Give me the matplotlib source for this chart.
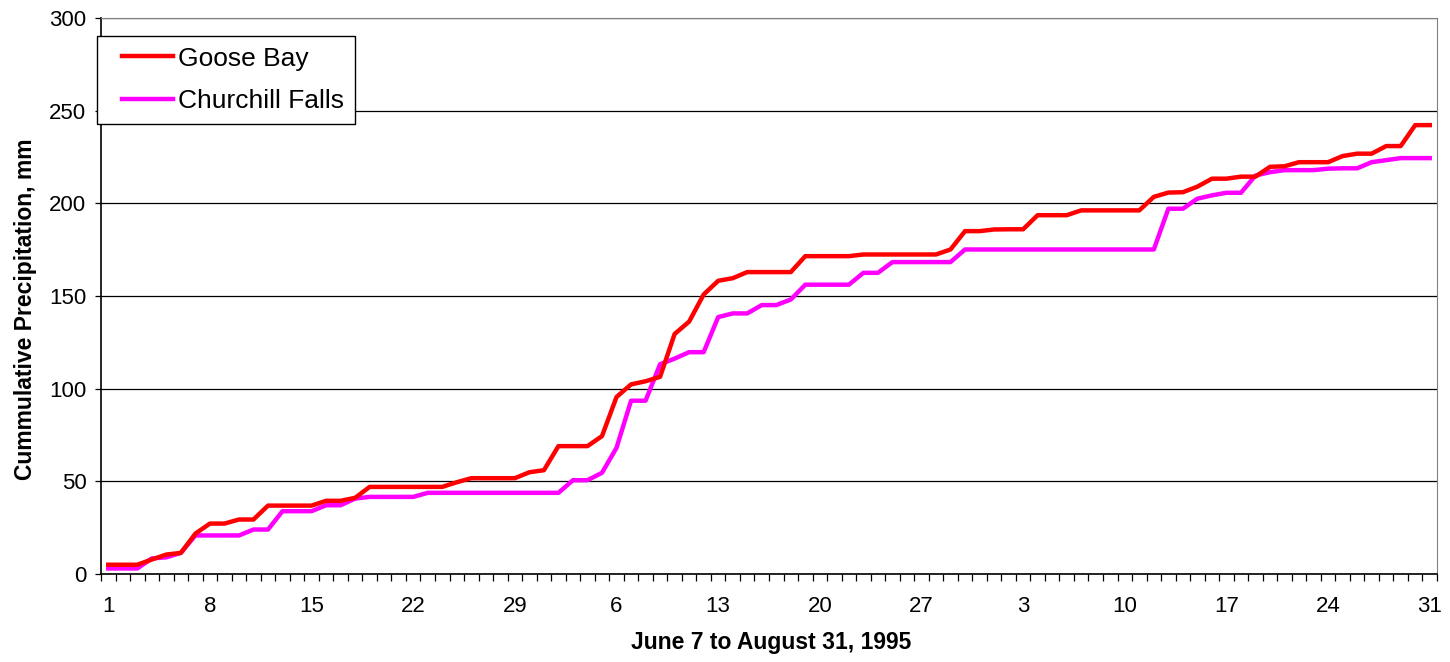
import numpy as np
import matplotlib
matplotlib.use("Agg")
import matplotlib.pyplot as plt
from matplotlib.legend_handler import HandlerLine2D

plt.rcParams['font.family'] = ['Liberation Sans', 'DejaVu Sans']

# daily cumulative precipitation, June 1 .. August 31 1995 (mm)
goose_bay = [5, 5, 5, 7.8, 10.5, 11.4, 21.8, 27.2, 27.2, 29.4,
             29.4, 36.9, 36.9, 36.9, 36.9, 39.5, 39.5, 41.1, 47, 47,
             47, 47, 47, 47, 49.5, 51.7, 51.7, 51.7, 51.7, 54.9,
             56, 69, 69, 69, 74.4, 95.5, 102.3, 104, 106.4, 129.5,
             136.2, 150.8, 158.2, 159.6, 162.9, 162.9, 162.9, 162.9, 171.5, 171.5,
             171.5, 171.5, 172.4, 172.4, 172.4, 172.4, 172.4, 172.4, 175.1, 185,
             185, 185.9, 186, 186, 193.6, 193.6, 193.6, 196.2, 196.2, 196.2,
             196.2, 196.2, 203.5, 205.8, 206, 209, 213.3, 213.3, 214.4, 214.4,
             219.7, 220, 222.2, 222.2, 222.2, 225.5, 226.8, 226.8, 230.9, 230.9,
             242.2, 242.2]
churchill = [3, 3, 3, 8.4, 9, 11.4, 20.8, 20.8, 20.8, 20.8,
             24, 24, 33.9, 33.9, 33.9, 37.1, 37.1, 40.7, 41.6, 41.6,
             41.6, 41.6, 43.8, 43.8, 43.8, 43.8, 43.8, 43.8, 43.8, 43.8,
             43.8, 43.8, 50.6, 50.6, 54.6, 68.1, 93.5, 93.5, 113.2, 116.2,
             119.7, 119.7, 138.6, 140.6, 140.6, 145.1, 145.1, 148.1, 156.1, 156.1,
             156.1, 156.1, 162.5, 162.5, 168.3, 168.3, 168.3, 168.3, 168.3, 175.1,
             175.1, 175.1, 175.1, 175.1, 175.1, 175.1, 175.1, 175.1, 175.1, 175.1,
             175.1, 175.1, 175.1, 197.1, 197.1, 202.5, 204.3, 205.7, 205.7, 215,
             216.8, 217.9, 217.9, 217.9, 218.7, 218.9, 218.9, 222.2, 223.3, 224.4,
             224.4, 224.4]
day_labels = ['1', '8', '15', '22', '29', '6', '13', '20', '27',
              '3', '10', '17', '24', '31']

x = np.arange(len(goose_bay))

fig = plt.figure(figsize=(14.5, 6.62), dpi=100)
ax = fig.add_axes([101/1450, 88/662, 1336/1450, 556/662])

ax.plot(x, goose_bay, color='#FF0000', lw=3.2, label='Goose Bay', zorder=3)
ax.plot(x, churchill, color='#FF00FF', lw=3.2, label='Churchill Falls', zorder=2)

ax.set_xlim(-0.5, len(x) - 0.5)
ax.set_ylim(0, 300)
ax.set_yticks(np.arange(0, 301, 50))
ax.yaxis.grid(True, color='black', lw=0.9)
ax.set_axisbelow(True)

# label every 7th day, tick marks between every category
ax.set_xticks(np.arange(0, len(x), 7))
ax.set_xticklabels(day_labels)
ax.set_xticks(np.arange(-0.5, len(x), 1), minor=True)
ax.tick_params(axis='x', which='major', length=0, pad=16, labelsize=16)
ax.tick_params(axis='x', which='minor', length=5, width=0.9, color='black')
ax.tick_params(axis='y', length=4, width=0.9, pad=6.5, labelsize=16)

for s in ['top', 'right']:
    ax.spines[s].set_color('#808080')
for s in ['left', 'bottom']:
    ax.spines[s].set_color('black')
    ax.spines[s].set_linewidth(1.2)

fig.text(26/1450, 1 - 309/662, 'Cummulative Precipitation, mm', rotation=90,
         fontsize=16.5, fontweight='bold', ha='center', va='center')
fig.text(771/1450, 1 - 643/662, 'June 7 to August 31, 1995',
         fontsize=16.5, fontweight='bold', ha='center', va='center')

hmap = {ln: HandlerLine2D(xpad=0.55) for ln in ax.get_lines()}
leg = ax.legend(loc='upper left', bbox_to_anchor=(97/1450, 1 - 36/662),
                bbox_transform=fig.transFigure, fontsize=19, frameon=True,
                fancybox=False, framealpha=1, edgecolor='black',
                borderaxespad=0, borderpad=0.4, labelspacing=0.7,
                handlelength=2.48, handletextpad=0.19, handler_map=hmap)
leg.get_frame().set_linewidth(1)

fig.savefig('out.png', dpi=100)
